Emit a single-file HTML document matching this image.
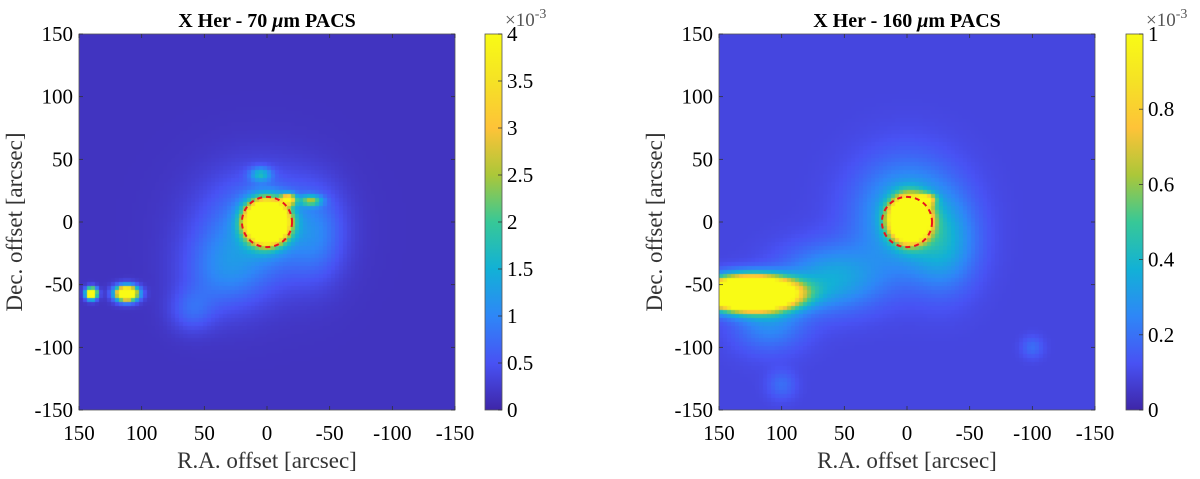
<!DOCTYPE html>
<html><head><meta charset="utf-8">
<style>
html,body{margin:0;padding:0;background:#fff;width:1200px;height:479px;overflow:hidden}
svg{font-family:"Liberation Serif",serif;position:absolute;left:0;top:0}
canvas{position:absolute}
</style></head>
<body>
<canvas id="c70" width="376" height="376" style="left:79px;top:34px;width:376px;height:376px"></canvas>
<canvas id="c160" width="376" height="376" style="left:719px;top:34px;width:376px;height:376px"></canvas>
<svg id="s" width="1200" height="479"></svg>
<script>
// ---- data ----
const axisTicks = [150, 100, 50, 0, -50, -100, -150];
const yTicks = [150, 100, 50, 0, -50, -100, -150];
const cbTicks70 = [0, 0.5, 1, 1.5, 2, 2.5, 3, 3.5, 4];
const cbTicks160 = [0, 0.2, 0.4, 0.6, 0.8, 1];
// emission components: [ra, dec, amplitude(normalized), sigmaRA, sigmaDec]
const sources70 = [
  [0, 0, 3.0, 10, 10],
  [-17, 18, 0.8, 4, 3],
  [-35, 17, 0.45, 6, 3],
  [5, 38, 0.3, 6, 4],
  [5, -5, 0.24, 32, 30],
  [35, -40, 0.16, 22, 22],
  [-40, -10, 0.14, 15, 25],
  [60, -70, 0.12, 12, 12],
  [140, -57, 1.5, 3, 3],
  [112, -57, 1.6, 6, 4]
];
const background70 = 0.04;
const sources160 = [
  [-2, 2, 3.0, 9, 10],
  [-15, 18, 0.6, 5, 3],
  [0, 5, 0.3, 28, 30],
  [60, -45, 0.26, 28, 18],
  [110, -80, 0.18, 20, 16],
  [-30, -20, 0.2, 18, 25],
  [125, -57, 3.0, 22, 8],
  [100, -130, 0.1, 8, 8],
  [-100, -100, 0.1, 6, 6]
];
const background160 = 0.09;
const circle = [0, 0, 20];

const stops=[[0,62,38,168],[0.125,72,82,244],[0.25,46,135,247],[0.375,18,177,214],[0.5,55,200,151],[0.625,171,199,57],[0.75,254,195,56],[0.875,245,226,37],[1,249,251,21]];
function cmap(v){v=Math.max(0,Math.min(1,v));for(let i=1;i<stops.length;i++){if(v<=stops[i][0]){const a=stops[i-1],b=stops[i],t=(v-a[0])/(b[0]-a[0]);return `rgb(${Math.round(a[1]+t*(b[1]-a[1]))},${Math.round(a[2]+t*(b[2]-a[2]))},${Math.round(a[3]+t*(b[3]-a[3]))})`;}}return 'rgb(249,251,21)';}
const P=376, scale=P/300;
function xs(ra){return (150-ra)*scale;} function ys(de){return (150-de)*scale;}
function drawMap(id,src,bg){
  const ctx=document.getElementById(id).getContext('2d');const N=94, cs=P/N;
  for(let i=0;i<N;i++)for(let j=0;j<N;j++){
    const ra=150-(i+0.5)*300/N, de=150-(j+0.5)*300/N;let v=bg;
    for(const s of src){const dx=(ra-s[0])/s[3],dy=(de-s[1])/s[4];v+=s[2]*Math.exp(-0.5*(dx*dx+dy*dy));}
    ctx.fillStyle=cmap(v);ctx.fillRect(Math.floor(i*cs),Math.floor(j*cs),Math.ceil(cs)+1,Math.ceil(cs)+1);
  }
}
drawMap('c70',sources70,background70);
drawMap('c160',sources160,background160);

const svg=document.getElementById('s');const NS='http://www.w3.org/2000/svg';
function el(t,a,txt){const e=document.createElementNS(NS,t);for(const k in a)e.setAttribute(k,a[k]);if(txt!==undefined)e.textContent=txt;svg.appendChild(e);return e;}
let defs=document.createElementNS(NS,'defs');let g=document.createElementNS(NS,'linearGradient');g.setAttribute('id','pg');g.setAttribute('x1','0');g.setAttribute('y1','1');g.setAttribute('x2','0');g.setAttribute('y2','0');
for(const s of stops){const st=document.createElementNS(NS,'stop');st.setAttribute('offset',s[0]);st.setAttribute('stop-color',`rgb(${s[1]},${s[2]},${s[3]})`);g.appendChild(st);}
defs.appendChild(g);svg.appendChild(defs);

function panel(x0,title,cbx,cbTicks,cbMax,name){
  const y0=34;
  const t=el('text',{x:x0+P/2,y:27,'text-anchor':'middle','font-size':20,'font-weight':'bold'});
  
  
  t.innerHTML=title;
  const fr=el('rect',{x:x0,y:y0,width:P,height:P,fill:'none',stroke:'#555','stroke-width':0.8});
  
  
  for(const v of axisTicks){const px=x0+xs(v);
    el('line',{x1:px,y1:y0+P,x2:px,y2:y0+P-4,stroke:'#333','stroke-width':0.8});
    el('line',{x1:px,y1:y0,x2:px,y2:y0+4,stroke:'#333','stroke-width':0.8});
    const l=el('text',{x:px,y:y0+P+30,'text-anchor':'middle','font-size':21},v);
    
    }
  for(const v of yTicks){const py=y0+ys(v);
    el('line',{x1:x0,y1:py,x2:x0+4,y2:py,stroke:'#333','stroke-width':0.8});
    el('line',{x1:x0+P,y1:py,x2:x0+P-4,y2:py,stroke:'#333','stroke-width':0.8});
    const l=el('text',{x:x0-6,y:py+7,'text-anchor':'end','font-size':21},v);
    
    }
  const xl=el('text',{x:x0+P/2,y:468,'text-anchor':'middle','font-size':23,fill:'#333'},'R.A. offset [arcsec]');
  
  
  const yl=el('text',{x:0,y:0,'text-anchor':'middle','font-size':23,fill:'#333',transform:`translate(${x0-57},${y0+P/2}) rotate(-90)`},'Dec. offset [arcsec]');
  
  
  const c=el('circle',{cx:x0+xs(circle[0]),cy:y0+ys(circle[1]),r:circle[2]*scale,fill:'none',stroke:'#e8141e','stroke-width':2,'stroke-dasharray':'5,4'});
  
  
  const cb=el('rect',{x:cbx,y:y0,width:17,height:P,fill:'url(#pg)',stroke:'#555','stroke-width':0.8});
  
  
  for(const v of cbTicks){const py=y0+P-v/cbMax*P;
    el('line',{x1:cbx+17,y1:py,x2:cbx+13,y2:py,stroke:'#333','stroke-width':0.8});
    const l=el('text',{x:cbx+22,y:py+7,'font-size':21},v);
    
    }
  const ex=el('text',{x:cbx+20,y:26,'font-size':19,fill:'#555'});
  
  
  ex.innerHTML='×10<tspan dy="-8" font-size="14">-3</tspan>';
}
panel(79,'X Her - 70 <tspan font-style="italic">μ</tspan>m PACS',485,cbTicks70,4,'panel-70um');
panel(719,'X Her - 160 <tspan font-style="italic">μ</tspan>m PACS',1126,cbTicks160,1,'panel-160um');
</script>
</body></html>
